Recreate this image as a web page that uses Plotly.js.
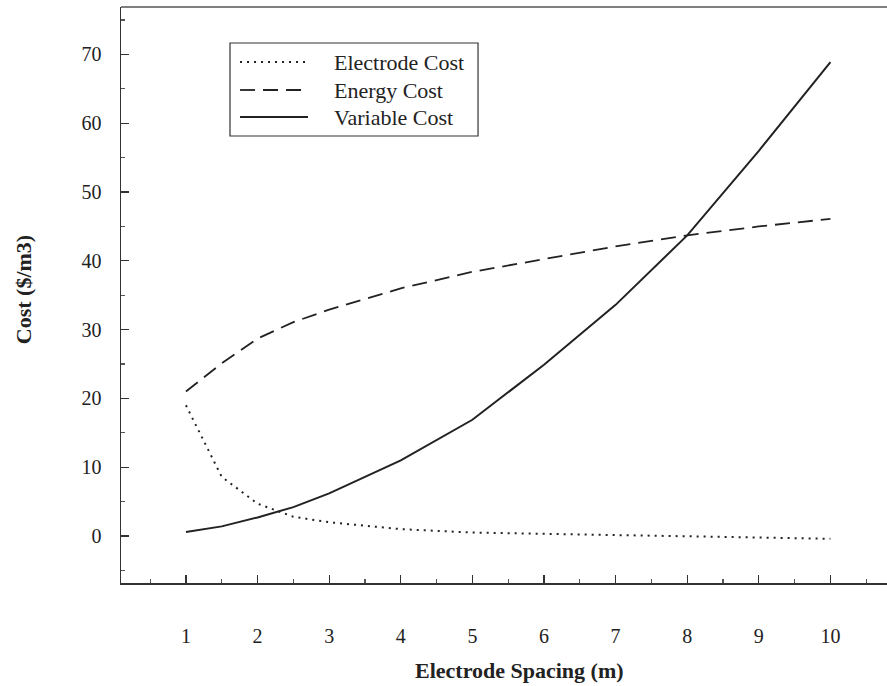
<!DOCTYPE html>
<html>
<head>
<meta charset="utf-8">
<script src="https://cdn.plot.ly/plotly-3.0.1.min.js"></script>
<style>html,body{margin:0;padding:0;background:#fff;}#chart{width:887px;height:686px;}</style>
</head>
<body>
<div id="chart"></div>
<script>
// Data
var spacing = [1, 1.5, 2, 2.5, 3, 4, 5, 6, 7, 8, 9, 10];
var electrodeCost = [19.0, 8.6, 4.7, 2.8, 2.0, 1.0, 0.5, 0.3, 0.15, 0.0, -0.2, -0.4];
var energyCost = [21.0, 25.1, 28.7, 31.1, 32.9, 36.0, 38.4, 40.3, 42.1, 43.7, 45.0, 46.1];
var variableCost = [0.6, 1.4, 2.7, 4.2, 6.2, 11.0, 16.9, 24.9, 33.6, 43.7, 56.0, 68.9];
var seriesNames = ["Electrode Cost", "Energy Cost", "Variable Cost"];
var xTickVals = [1, 2, 3, 4, 5, 6, 7, 8, 9, 10];
var yTickVals = [0, 10, 20, 30, 40, 50, 60, 70];
var xTitle = "Electrode Spacing (m)";
var yTitle = "Cost ($/m3)";

var font = "Liberation Serif, Times New Roman, serif";
var lineStyles = [
  {color: "#222", width: 2, dash: "2px,5px"},
  {color: "#222", width: 1.8, dash: "15px,8px"},
  {color: "#222", width: 2}
];
var seriesY = [electrodeCost, energyCost, variableCost];
var traces = seriesY.map(function (ys, i) {
  return {x: spacing, y: ys, name: seriesNames[i], mode: "lines", line: lineStyles[i], showlegend: false};
});

// Hand-built legend box (paper coordinates) to match the reference's spacing
var legendRowsY = [0.9045, 0.8559, 0.809];
var shapes = [
  {type: "line", xref: "paper", yref: "paper", x0: 0, x1: 1, y0: 1, y1: 1,
   line: {color: "#555", width: 1.5}},
  {type: "rect", xref: "paper", yref: "paper", x0: 0.1423, x1: 0.4661, y0: 0.776, y1: 0.9375,
   line: {color: "#333", width: 1.2}, fillcolor: "#fff"}
];
var annotations = [
  {text: "<b>" + xTitle + "</b>", xref: "paper", yref: "paper", x: 0.52, y: -0.152,
   xanchor: "center", yanchor: "middle", showarrow: false,
   font: {family: font, size: 22, color: "#222"}},
  {text: "<b>" + yTitle + "</b>", xref: "paper", yref: "paper", x: -0.128, y: 0.51,
   xanchor: "center", yanchor: "middle", showarrow: false, textangle: -90,
   font: {family: font, size: 22, color: "#222"}}
];
seriesNames.forEach(function (name, i) {
  shapes.push({type: "line", xref: "paper", yref: "paper", x0: 0.1554, x1: 0.2441,
               y0: legendRowsY[i], y1: legendRowsY[i], line: lineStyles[i]});
  annotations.push({text: name, xref: "paper", yref: "paper", x: 0.2755, y: legendRowsY[i],
                    xanchor: "left", yanchor: "middle", showarrow: false,
                    font: {family: font, size: 22, color: "#222"}});
});

var layout = {
  width: 887, height: 686,
  margin: {l: 121, r: 0, t: 7, b: 103},
  paper_bgcolor: "#fff", plot_bgcolor: "#fff",
  font: {family: font, color: "#222", size: 20},
  showlegend: false,
  xaxis: {range: [0.093, 10.79], tickvals: xTickVals, ticktext: xTickVals.map(String),
          ticks: "inside", ticklen: 8, tickwidth: 1.2, tickcolor: "#333",
          showline: true, linecolor: "#333", linewidth: 1.5,
          showgrid: false, zeroline: false, ticklabelstandoff: 34,
          tickfont: {family: font, size: 20, color: "#222"},
          minor: {dtick: 0.5, tick0: 0, ticks: "inside", ticklen: 4, tickcolor: "#555", showgrid: false}},
  yaxis: {range: [-6.83, 76.9], tickvals: yTickVals, ticktext: yTickVals.map(String),
          ticks: "inside", ticklen: 8, tickwidth: 1.2, tickcolor: "#333",
          showline: true, linecolor: "#333", linewidth: 1.5,
          showgrid: false, zeroline: false, ticklabelstandoff: 14,
          tickfont: {family: font, size: 20, color: "#222"},
          minor: {dtick: 5, tick0: 0, ticks: "inside", ticklen: 4, tickcolor: "#555", showgrid: false}},
  annotations: annotations,
  shapes: shapes
};
Plotly.newPlot("chart", traces, layout, {displayModeBar: false, staticPlot: true});
</script>
</body>
</html>
